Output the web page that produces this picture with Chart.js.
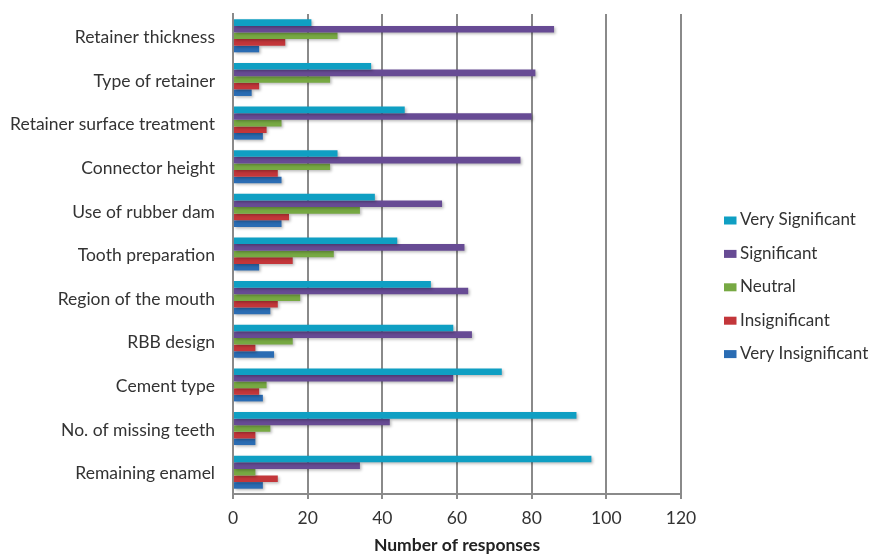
<!DOCTYPE html>
<html>
<head>
<meta charset="utf-8">
<script src="https://cdn.jsdelivr.net/npm/chart.js@4/dist/chart.umd.min.js"></script>
<style>
  html, body { margin: 0; padding: 0; background: #ffffff; }
  #wrap { width: 870px; height: 554px; }
</style>
</head>
<body>
<div id="wrap"><canvas id="c" width="870" height="554"></canvas></div>
<script>
const categories = [
  "Retainer thickness",
  "Type of retainer",
  "Retainer surface treatment",
  "Connector height",
  "Use of rubber dam",
  "Tooth preparation",
  "Region of the mouth",
  "RBB design",
  "Cement type",
  "No. of missing teeth",
  "Remaining enamel"
];
const seriesNames = ["Very Significant", "Significant", "Neutral", "Insignificant", "Very Insignificant"];
const verySignificant   = [21, 37, 46, 28, 38, 44, 53, 59, 72, 92, 96];
const significant       = [86, 81, 80, 77, 56, 62, 63, 64, 59, 42, 34];
const neutral           = [28, 26, 13, 26, 34, 27, 18, 16,  9, 10,  6];
const insignificant     = [14,  7,  9, 12, 15, 16, 12,  6,  7,  6, 12];
const veryInsignificant = [ 7,  5,  8, 13, 13,  7, 10, 11,  8,  6,  8];
const xTicks = [0, 20, 40, 60, 80, 100, 120];
const xTitle = "Number of responses";

const colors = [
  ["#3cc3e0", "#0f9fc3", "#0a86a6"],
  ["#8a6db5", "#674b94", "#523a79"],
  ["#9bc866", "#77a943", "#5f8d32"],
  ["#e05a5c", "#c3363a", "#a0262a"],
  ["#4d8fd3", "#2a6cb3", "#1f5594"]
];
const solid = colors.map(c => c[1]);

function grad(i) {
  return function(ctx) {
    if (ctx.type !== 'data' || !ctx.element) return solid[i];
    const el = ctx.element;
    const y = el.y, h = el.height;
    if (!Number.isFinite(y) || !Number.isFinite(h) || h <= 0) return solid[i];
    const g = ctx.chart.ctx.createLinearGradient(0, y - h / 2, 0, y + h / 2);
    g.addColorStop(0, colors[i][0]);
    g.addColorStop(0.45, colors[i][1]);
    g.addColorStop(1, colors[i][2]);
    return g;
  };
}

const dataArrays = [verySignificant, significant, neutral, insignificant, veryInsignificant];
const FONT = "Lato, 'Open Sans', sans-serif";
const FS = 17.5;
const TEXT = '#333333';

const shadowPlugin = {
  id: 'barShadow',
  beforeDatasetsDraw(chart) {
    const c = chart.ctx;
    c.save();
    c.shadowColor = 'rgba(0,0,0,0.28)';
    c.shadowBlur = 3;
    c.shadowOffsetX = 1.5;
    c.shadowOffsetY = 1.5;
  },
  afterDatasetsDraw(chart) {
    chart.ctx.restore();
  }
};

const legendPlugin = {
  id: 'sideLegend',
  afterDraw(chart) {
    const c = chart.ctx;
    c.save();
    c.font = '17px ' + FONT;
    c.textBaseline = 'middle';
    c.textAlign = 'left';
    chart.data.datasets.forEach((ds, i) => {
      const yc = 220 + i * 33.4;
      c.fillStyle = solid[i];
      c.fillRect(724, yc - 3.5, 12.5, 8);
      c.fillStyle = TEXT;
      c.fillText(ds.label, 740, yc);
    });
    c.restore();
  }
};

new Chart(document.getElementById('c'), {
  type: 'bar',
  data: {
    labels: categories,
    datasets: dataArrays.map((d, i) => ({
      label: seriesNames[i],
      data: d,
      backgroundColor: grad(i),
      borderWidth: 0,
      categoryPercentage: 0.757,
      barPercentage: 1.0
    }))
  },
  options: {
    indexAxis: 'y',
    responsive: false,
    animation: false,
    devicePixelRatio: 1,
    layout: { padding: { left: 0, top: 14, right: 189, bottom: 0 } },
    plugins: {
      tooltip: { enabled: false },
      legend: { display: false }
    },
    scales: {
      x: {
        min: 0,
        max: 120,
        afterBuildTicks(scale) { scale.ticks = xTicks.map(v => ({ value: v })); },
        afterFit(scale) { scale.height = 60; },
        grid: { color: '#8a8a8a', lineWidth: 2, drawTicks: true, tickLength: 5, tickColor: '#8a8a8a' },
        border: { display: true, color: '#8a8a8a', width: 2 },
        ticks: { color: TEXT, font: { family: FONT, size: FS }, padding: 9 },
        title: {
          display: true,
          text: xTitle,
          color: '#222222',
          font: { family: FONT, size: FS, weight: 'bold' },
          padding: { top: 4, bottom: -2 }
        }
      },
      y: {
        afterFit(scale) { scale.width = 233; scale.paddingTop = 0; scale.paddingBottom = 0; },
        grid: { display: false, drawTicks: false },
        border: { display: true, color: '#8a8a8a', width: 2 },
        ticks: { color: TEXT, font: { family: FONT, size: FS }, padding: 18, labelOffset: 1.5 }
      }
    }
  },
  plugins: [shadowPlugin, legendPlugin]
});
</script>
</body>
</html>
